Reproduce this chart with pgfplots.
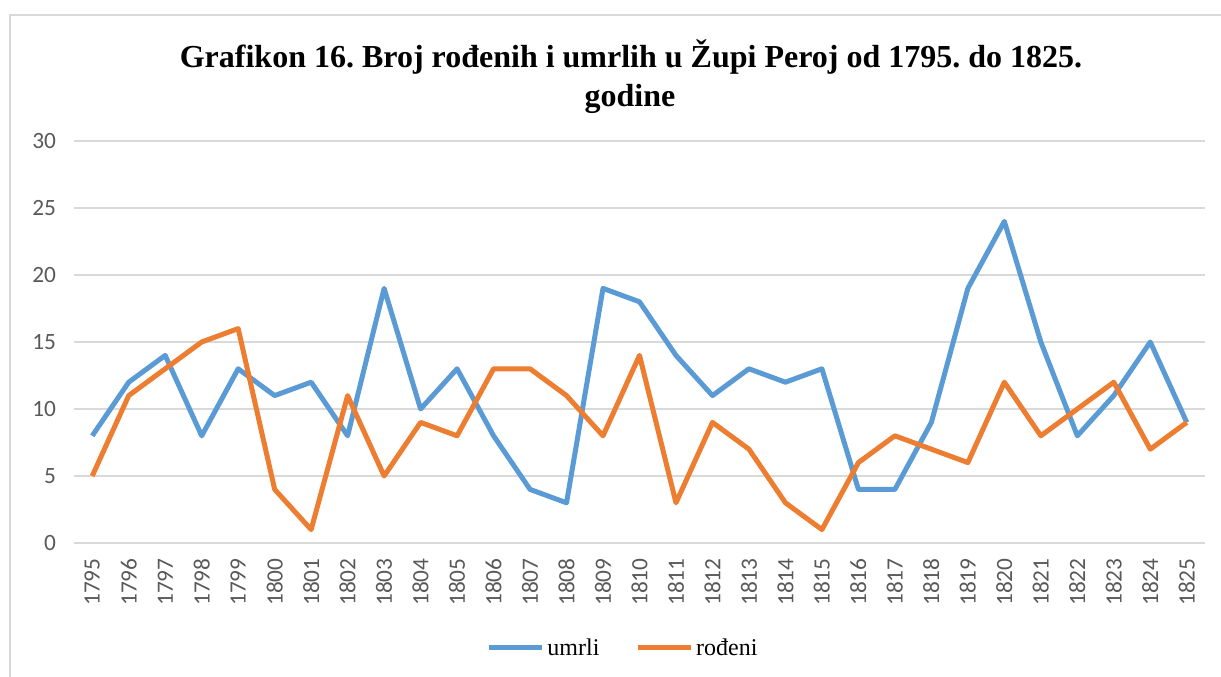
\documentclass[border=0pt]{standalone}
\usepackage{fontspec}
\setmainfont{Liberation Serif}
\newfontfamily\calib{Carlito}
\usepackage{pgfplots}
\pgfplotsset{compat=1.18}
\definecolor{umrlicol}{HTML}{5B9BD5}
\definecolor{rodenicol}{HTML}{ED7D31}
\definecolor{gridgray}{HTML}{D9D9D9}
\definecolor{ticktext}{HTML}{595959}
\frenchspacing

\begin{document}
\begin{tikzpicture}
% page frame (1 px = 0.75pt)
\useasboundingbox (0,0) rectangle (915.75pt,507.75pt);
\draw[gridgray, line width=1.5pt] (7.5pt,0) -- (7.5pt,496.5pt) -- (915.75pt,496.5pt);

\node[anchor=base, font=\fontsize{24}{29}\selectfont\bfseries] at (473.25pt,456.75pt)
  {Grafikon 16. Broj rođenih i umrlih u Župi Peroj od 1795. do 1825.};
\node[anchor=base, font=\fontsize{24}{29}\selectfont\bfseries] at (472.5pt,427.5pt) {godine};

\begin{axis}[
  at={(55.5pt,100.5pt)}, anchor=south west,
  scale only axis,
  width=848.25pt, height=301.5pt,
  xmin=1794.5, xmax=1825.5,
  ymin=0, ymax=30,
  xtick={1795,...,1825},
  ytick={0,5,...,30},
  axis line style={draw=none},
  major tick length=0pt,
  ymajorgrids,
  grid style={gridgray, line width=1.1pt},
  /pgf/number format/assume math mode=true,
  /pgf/number format/1000 sep={},
  xticklabel style={font=\calib\fontsize{17.5}{20}\selectfont, color=ticktext, rotate=90, anchor=east},
  yticklabel style={font=\calib\fontsize{17.5}{20}\selectfont, color=ticktext, anchor=east},
  xticklabel shift=8pt,
  yticklabel shift=10pt,
  legend columns=2,
  legend style={draw=none, fill=none, font=\fontsize{18}{21}\selectfont,
    at={(0.4858,-0.2612)}, anchor=center,
    /tikz/every even column/.append style={column sep=25pt}},
  legend image code/.code={\draw[#1, line width=3.75pt] (0pt,0pt) -- (39.75pt,0pt);},
]
\addplot[umrlicol, line width=3.75pt, line join=round] coordinates {
(1795,8) (1796,12) (1797,14) (1798,8) (1799,13) (1800,11) (1801,12) (1802,8)
(1803,19) (1804,10) (1805,13) (1806,8) (1807,4) (1808,3) (1809,19) (1810,18)
(1811,14) (1812,11) (1813,13) (1814,12) (1815,13) (1816,4) (1817,4) (1818,9)
(1819,19) (1820,24) (1821,15) (1822,8) (1823,11) (1824,15) (1825,9)};
\addlegendentry{umrli}
\addplot[rodenicol, line width=3.75pt, line join=round] coordinates {
(1795,5) (1796,11) (1797,13) (1798,15) (1799,16) (1800,4) (1801,1) (1802,11)
(1803,5) (1804,9) (1805,8) (1806,13) (1807,13) (1808,11) (1809,8) (1810,14)
(1811,3) (1812,9) (1813,7) (1814,3) (1815,1) (1816,6) (1817,8) (1818,7)
(1819,6) (1820,12) (1821,8) (1822,10) (1823,12) (1824,7) (1825,9)};
\addlegendentry{rođeni}
\end{axis}
\end{tikzpicture}
\end{document}
